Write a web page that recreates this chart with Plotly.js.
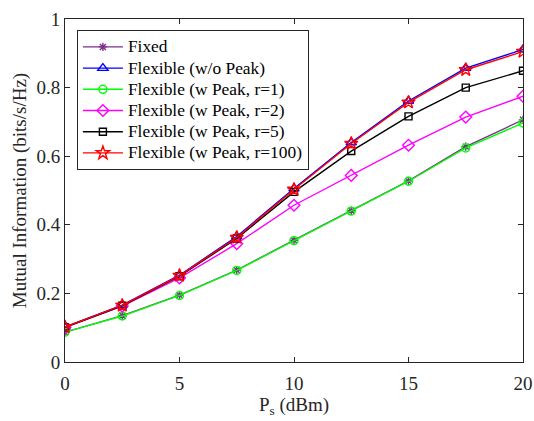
<!DOCTYPE html>
<html>
<head>
<meta charset="utf-8">
<script src="https://cdn.plot.ly/plotly-3.0.1.min.js"></script>
<style>html,body{margin:0;padding:0;background:#fff;}#chart{width:534px;height:421px;}</style>
</head>
<body>
<div id="chart"></div>
<script>
const ps = [0, 2.5, 5, 7.5, 10, 12.5, 15, 17.5, 20];
const fixed   = [0.087, 0.135, 0.195, 0.268, 0.355, 0.441, 0.528, 0.628, 0.706];
const flexNoPeak = [0.102, 0.166, 0.253, 0.366, 0.506, 0.640, 0.761, 0.857, 0.911];
const flexR1  = [0.087, 0.134, 0.194, 0.267, 0.354, 0.440, 0.527, 0.624, 0.697];
const flexR2  = [0.101, 0.163, 0.245, 0.345, 0.457, 0.544, 0.632, 0.714, 0.775];
const flexR5  = [0.101, 0.164, 0.250, 0.360, 0.496, 0.615, 0.716, 0.800, 0.849];
const flexR100 = [0.102, 0.165, 0.252, 0.363, 0.503, 0.637, 0.757, 0.852, 0.905];
const names = ["Fixed", "Flexible (w/o Peak)", "Flexible (w Peak, r=1)", "Flexible (w Peak, r=2)", "Flexible (w Peak, r=5)", "Flexible (w Peak, r=100)"];

const series = [fixed, flexNoPeak, flexR1, flexR2, flexR5, flexR100];
const colors = ["#7E2F8E", "#0000FF", "#00FF00", "#FF00FF", "#000000", "#FF0000"];
const symbols = ["asterisk-open", "triangle-up-open", "circle-open", "diamond-open", "square-open", "star-open"];
const sizes = [7, 9, 8, 9, 7, 10];

const FONT = "'Liberation Serif', 'Times New Roman', Times, serif";

const traces = series.map((s, i) => ({
  x: ps, y: s, name: '<span style="font-size:17.4px">' + names[i] + '</span>',
  type: "scatter", mode: "lines+markers",
  line: {color: colors[i], width: 1.4},
  marker: {symbol: symbols[i], size: sizes[i], color: colors[i], line: {color: colors[i], width: 1.4}}
}));

const axisCommon = {
  showgrid: false, zeroline: false, showline: true, mirror: "ticks",
  linecolor: "#262626", linewidth: 1, ticks: "inside", ticklen: 5, tickcolor: "#262626",
  tickfont: {family: FONT, size: 19, color: "#262626"}
};

const layout = {
  width: 534, height: 421,
  margin: {l: 65, r: 11, t: 19, b: 59},
  paper_bgcolor: "#fff", plot_bgcolor: "#fff",
  font: {family: FONT, color: "#262626"},
  xaxis: Object.assign({}, axisCommon, {
    range: [0, 20], tickvals: [0, 5, 10, 15, 20], ticklabelstandoff: 4,
    title: {text: "P<sub>s</sub> (dBm)", font: {family: FONT, size: 19, color: "#262626"}, standoff: 2}
  }),
  yaxis: Object.assign({}, axisCommon, {
    range: [0, 1], tickvals: [0, 0.2, 0.4, 0.6, 0.8, 1],
    title: {text: "Mutual Information (bits/s/Hz)", font: {family: FONT, size: 19, color: "#262626"}, standoff: 4}
  }),
  legend: {
    x: 0.026, y: 0.967, xanchor: "left", yanchor: "top",
    bgcolor: "#fff", bordercolor: "#262626", borderwidth: 1,
    font: {family: FONT, size: 14, color: "#000"},
    itemwidth: 40, tracegroupgap: 0
  },
  showlegend: true
};

Plotly.newPlot("chart", traces, layout, {displayModeBar: false, staticPlot: true});
</script>
</body>
</html>
